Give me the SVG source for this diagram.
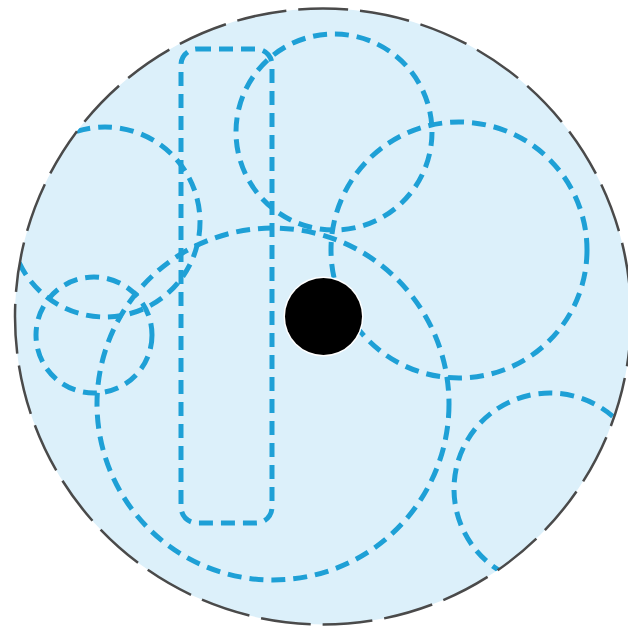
<svg xmlns="http://www.w3.org/2000/svg" width="628" height="633" viewBox="0 0 628 633">
<style>
.d{fill:none;stroke:#1ea0d6;stroke-width:5;stroke-dasharray:14 8;}
</style>
<defs>
<clipPath id="c"><circle cx="323" cy="316.5" r="308"/></clipPath>
</defs>
<rect width="628" height="633" fill="#ffffff"/>
<circle id="disc" cx="323" cy="316.5" r="308" fill="#dcf0fa"/>
<g id="shapes" clip-path="url(#c)">
<g id="left-top-circle"><circle class="d" cx="105" cy="222" r="95"/></g>
<g id="small-left-circle"><circle class="d" cx="94" cy="335" r="58"/></g>
<g id="top-circle"><circle class="d" cx="334" cy="132" r="98"/></g>
<g id="right-circle"><circle class="d" cx="459" cy="250" r="128"/></g>
<g id="center-circle"><circle class="d" cx="273" cy="404" r="176"/></g>
<g id="bottom-right-circle"><circle class="d" cx="550" cy="489" r="96"/></g>
<g id="rect"><rect class="d" x="181" y="49" width="91" height="474" rx="16"/></g>
</g>
<circle id="outline" cx="323" cy="316.5" r="308" fill="none" stroke="#4a4a4a" stroke-width="2.5" stroke-dasharray="50 12"/>
<g id="dot"><circle cx="323.5" cy="316.5" r="40" fill="#ffffff"/><circle cx="323.5" cy="316.5" r="38.5" fill="#000000"/></g>
</svg>
